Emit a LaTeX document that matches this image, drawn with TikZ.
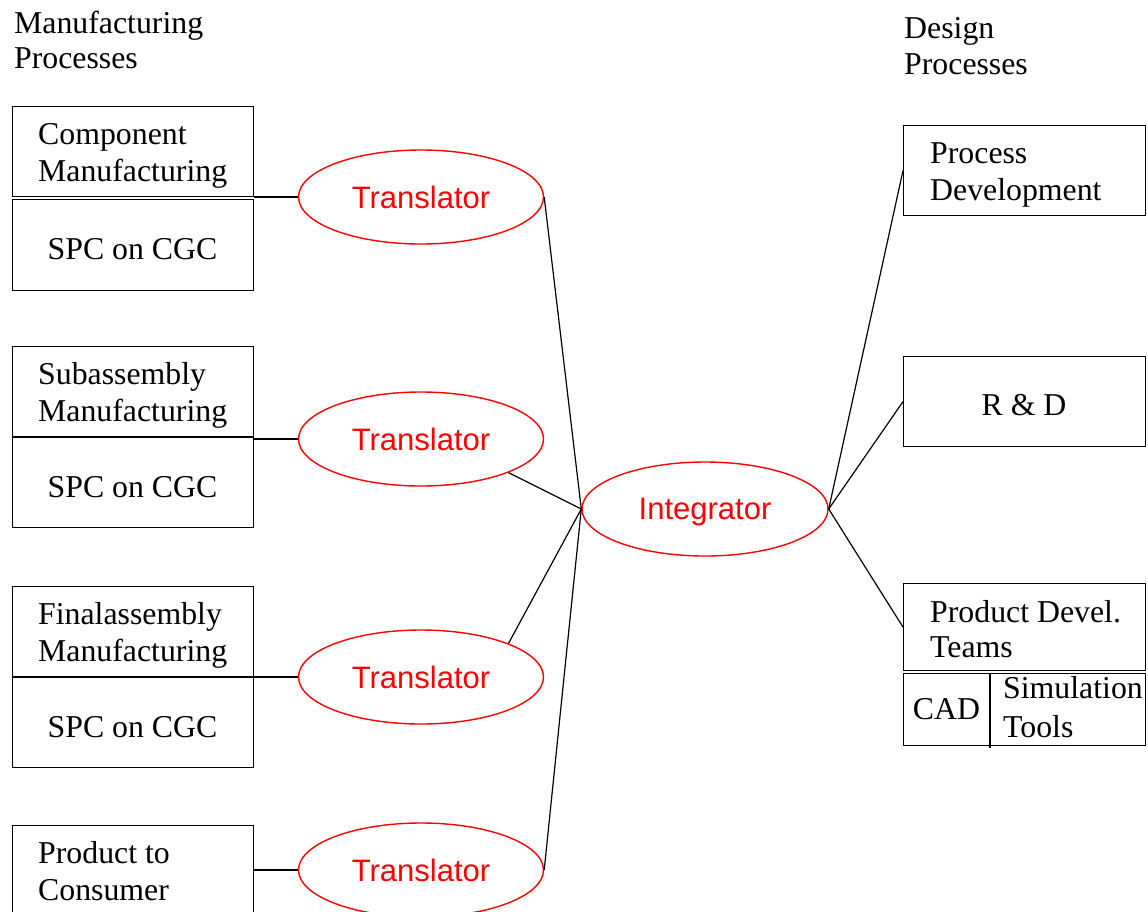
\documentclass[tikz,border=0pt]{standalone}
\usepackage{fontspec}
\setmainfont{Liberation Serif}
\newfontfamily\arialfont{Liberation Sans}
\usetikzlibrary{shapes.geometric}
\begin{document}
\begin{tikzpicture}[x=1pt, y=-1pt,
  box/.style={draw=black, line width=1.2pt, rectangle, inner sep=0pt, anchor=north west},
  txt/.style={inner sep=0pt, anchor=base west, font=\fontsize{31.8}{36}\selectfont},
  ctxt/.style={inner sep=0pt, anchor=base, font=\fontsize{31.8}{36}\selectfont},
  oval/.style={ellipse, draw=red, line width=1.4pt, inner sep=0pt,
    minimum width=245pt, minimum height=94pt, text=red, text depth=0pt,
    font=\arialfont\fontsize{31}{36}\selectfont},
  link/.style={draw=black, line width=1.2pt}]
\path[use as bounding box] (0,0) rectangle (1148,911);
\clip (0,0) rectangle (1148,911);

% column headings
\node[txt] (mh1) at (14,33) {Manufacturing};
\node[txt] (mh2) at (14,68) {Processes};
\node[txt] (dh1) at (904,38) {Design};
\node[txt] (dh2) at (904,74) {Processes};

% manufacturing side
\node[box, minimum width=241pt, minimum height=90pt] (cm) at (12,106) {};
\node[txt] (cm1) at (38,144) {Component};
\node[txt] (cm2) at (38,181) {Manufacturing};
\node[box, minimum width=241pt, minimum height=91pt] (spc1) at (12,199) {};
\node[ctxt] (spc1t) at (132.5,259) {SPC on CGC};

\node[box, minimum width=241pt, minimum height=90pt] (sa) at (12,346) {};
\node[txt] (sa1) at (38,384) {Subassembly};
\node[txt] (sa2) at (38,421) {Manufacturing};
\node[box, minimum width=241pt, minimum height=90pt] (spc2) at (12,437) {};
\node[ctxt] (spc2t) at (132.5,497) {SPC on CGC};

\node[box, minimum width=241pt, minimum height=90pt] (fa) at (12,586) {};
\node[txt] (fa1) at (38,624) {Finalassembly};
\node[txt] (fa2) at (38,661) {Manufacturing};
\node[box, minimum width=241pt, minimum height=90pt] (spc3) at (12,677) {};
\node[ctxt] (spc3t) at (132.5,737) {SPC on CGC};

\node[box, minimum width=241pt, minimum height=100pt] (pc) at (12,825) {};
\node[txt] (pc1) at (38,863) {Product to};
\node[txt] (pc2) at (38,900) {Consumer};

% translators and integrator
\node[oval] (t1) at (421,197) {Translator};
\node[oval] (t2) at (421,439) {Translator};
\node[oval] (t3) at (421,677) {Translator};
\node[oval] (t4) at (421,870) {Translator};
\node[oval, minimum width=246pt] (int) at (705,509) {Integrator};

% design side
\node[box, minimum width=242pt, minimum height=90pt] (pd) at (903,125) {};
\node[txt] (pd1) at (930,163) {Process};
\node[txt] (pd2) at (930,200) {Development};

\node[box, minimum width=242pt, minimum height=90pt] (rd) at (903,356) {};
\node[ctxt] (rdt) at (1024,415) {R \& D};

\node[box, minimum width=242pt, minimum height=87pt] (pdt) at (903,583) {};
\node[txt] (pdt1) at (930,622) {Product Devel.};
\node[txt] (pdt2) at (930,657) {Teams};
\node[box, minimum width=242pt, minimum height=72pt] (tools) at (903,673) {};
\coordinate (divtop) at (990,673);
\coordinate (divbot) at (990,748);
\draw[link] (divtop) -- (divbot);
\node[ctxt] (cad) at (946.5,719) {CAD};
\node[txt] (sim1) at (1003,698) {Simulation};
\node[txt] (sim2) at (1003,737) {Tools};

% connectors
\draw[link] (t1.west) -- (t1.west -| cm.east);
\draw[link] (t2.west) -- (t2.west -| sa.east);
\draw[link] (t3.west) -- (t3.west -| fa.east);
\draw[link] (t4.west) -- (t4.west -| pc.east);

\draw[link] (t1.east) -- (int.west);
\draw[link] (t2.-21) -- (int.west);
\draw[link] (t3.21) -- (int.west);
\draw[link] (t4.east) -- (int.west);

\draw[link] (int.east) -- (pd.west);
\draw[link] (int.east) -- (rd.west);
\draw[link] (int.east) -- (pdt.west);
\end{tikzpicture}
\end{document}
